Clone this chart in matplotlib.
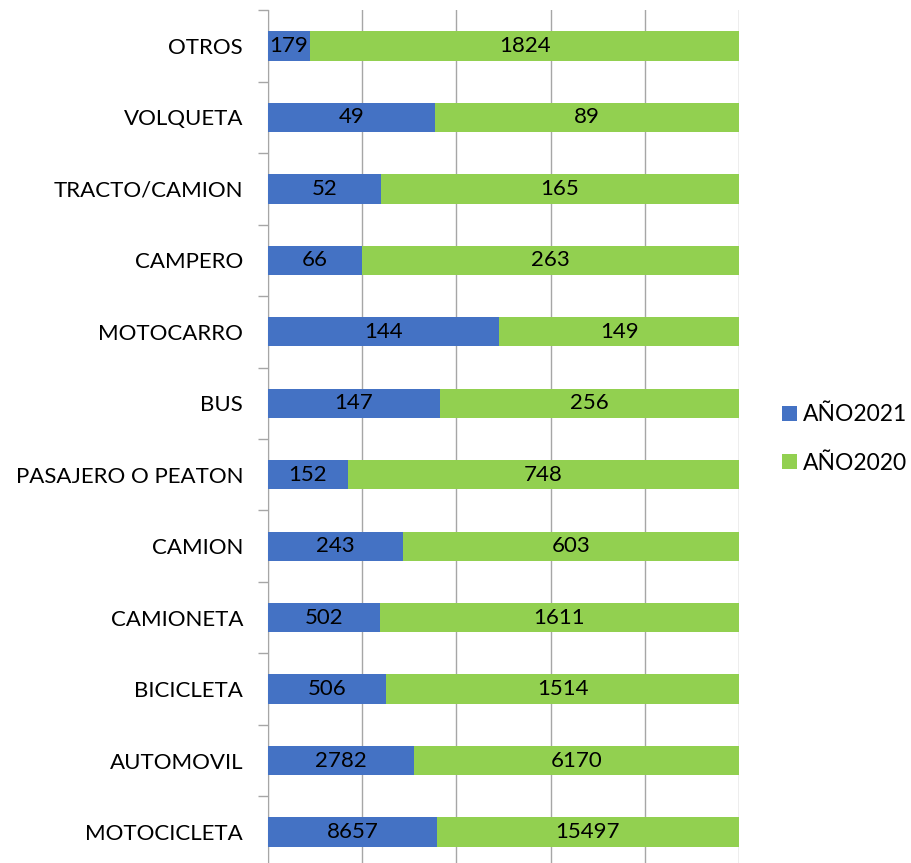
import matplotlib
matplotlib.use("Agg")
import matplotlib.pyplot as plt
import numpy as np

categories = ["MOTOCICLETA", "AUTOMOVIL", "BICICLETA", "CAMIONETA", "CAMION",
              "PASAJERO O PEATON", "BUS", "MOTOCARRO", "CAMPERO", "TRACTO/CAMION",
              "VOLQUETA", "OTROS"]
anio2021 = [8657, 2782, 506, 502, 243, 152, 147, 144, 66, 52, 49, 179]
anio2020 = [15497, 6170, 1514, 1611, 603, 748, 256, 149, 263, 165, 89, 1824]

plt.rcParams['font.family'] = ['Lato', 'DejaVu Sans']

fig = plt.figure(figsize=(9.12, 8.63), dpi=100)
ax = fig.add_axes([268/912, 1 - 867.7/863, (739-268)/912, (867.7-10.3)/863])

a = np.array(anio2021, float)
b = np.array(anio2020, float)
tot = a + b
pa = a / tot * 100
pb = b / tot * 100
y = np.arange(len(categories))
h = 0.41
blue = "#4472C4"
green = "#92D050"
fs = 16
ax.barh(y, pa, height=h, color=blue, label="AÑO2021", zorder=3)
ax.barh(y, pb, left=pa, height=h, color=green, label="AÑO2020", zorder=3)
for i in range(len(categories)):
    ax.text(pa[i] / 2, y[i], str(anio2021[i]), ha="center", va="center", fontsize=fs, color="black", zorder=4)
    ax.text(pa[i] + pb[i] / 2, y[i], str(anio2020[i]), ha="center", va="center", fontsize=fs, color="black", zorder=4)

ax.set_xlim(0, 100)
ax.set_ylim(-0.5, len(categories) - 0.5)
ax.set_xticks([0, 20, 40, 60, 80, 100])
ax.xaxis.grid(True, color="#a6a6a6", linewidth=1, zorder=0)
ax.tick_params(axis="x", length=0, labelbottom=False)
ax.set_yticks(y)
ax.set_yticklabels(categories, fontsize=fs)
ax.tick_params(axis="y", which="major", length=0, pad=18)
ax.set_yticks(np.arange(-0.5, len(categories), 1), minor=True)
ax.tick_params(axis="y", which="minor", length=7, color="#a6a6a6", width=1)
for s in ["top", "right", "bottom"]:
    ax.spines[s].set_visible(False)
ax.spines["left"].set_color("#a6a6a6")

handles, labels = ax.get_legend_handles_labels()
fig.legend(handles, labels, loc="center left", bbox_to_anchor=(782/912, 1 - 439/863),
           frameon=False, fontsize=16.5, handlelength=0.65, handleheight=0.65,
           handletextpad=0.28, labelspacing=1.18, borderpad=0, borderaxespad=0)

fig.savefig("out.png", dpi=100)
